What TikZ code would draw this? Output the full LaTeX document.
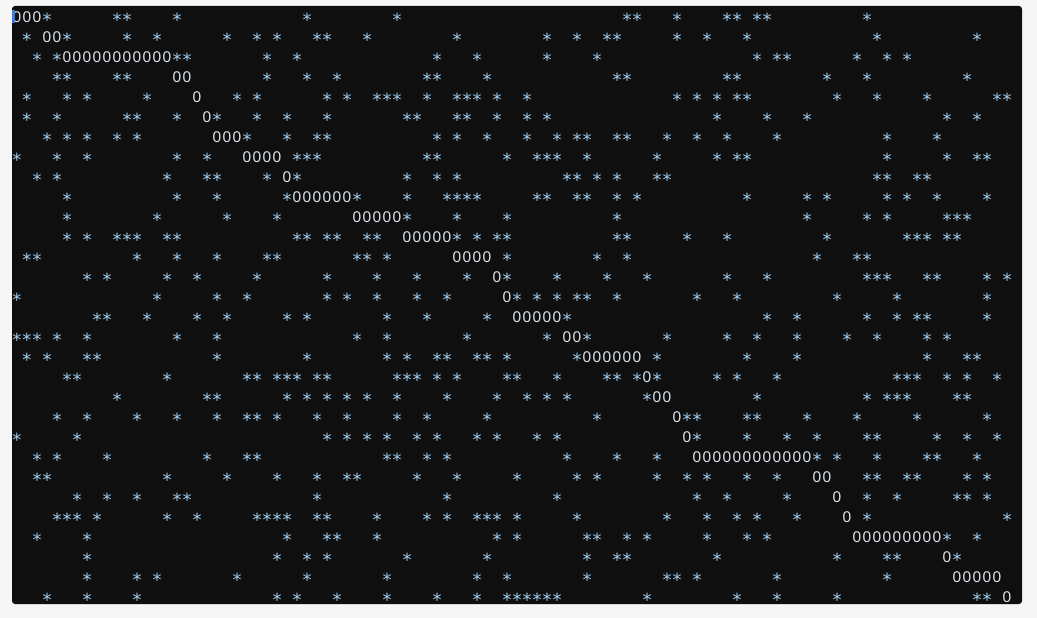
\documentclass[tikz,border=0pt]{standalone}
\usepackage{fontspec}
\newfontfamily\zfont{Liberation Sans}
\newfontfamily\sfont{DejaVu Sans}
\definecolor{outerbg}{HTML}{F6F6F6}
\definecolor{panel}{HTML}{0F0F0F}
\definecolor{starc}{HTML}{A2CFF0}
\definecolor{zeroc}{HTML}{DCE3EA}
\definecolor{cursorc}{HTML}{3C7BD8}
\tikzset{
  zeronode/.style={anchor=base, inner sep=0pt, outer sep=0pt, text=zeroc,
    font=\zfont\fontsize{15.5}{15.5}\selectfont},
  starnode/.style={anchor=base, inner sep=0pt, outer sep=0pt, text=starc,
    font=\sfont\fontsize{18}{18}\selectfont},
}
\newcommand\gridrow[4]{%
  \foreach \kk in {1,...,#3}{%
    \node[zeronode] (z#1-\kk) at ({17+10*(#2+\kk-1)}, {22.5+20*#1}) {0};}%
  \foreach \cc in {#4}{%
    \node[starnode] (s#1-\cc) at ({17+10*\cc}, {26.6+20*#1}) {*};}%
}
\begin{document}
\begin{tikzpicture}[x=1pt,y=-1pt]
\fill[outerbg] (0,0) rectangle (1037,618);
\useasboundingbox (0,0) rectangle (1037,618);
\fill[panel, rounded corners=3pt] (12,6) rectangle (1022,604);
\gridrow{0}{0}{3}{3,10,11,16,29,38,61,62,66,71,72,74,75,85}
\gridrow{1}{3}{2}{1,5,11,14,21,24,26,30,31,35,44,53,56,59,60,66,69,73,86,96}
\gridrow{2}{5}{11}{2,4,16,17,25,28,42,46,53,58,74,76,77,84,87,89}
\gridrow{3}{16}{2}{4,5,10,11,25,29,32,41,42,47,60,61,71,72,81,85,95}
\gridrow{4}{18}{1}{1,5,7,13,22,24,31,33,36,37,38,41,44,45,46,48,51,66,68,70,72,73,82,86,91,98,99}
\gridrow{5}{19}{1}{1,4,11,12,16,20,24,27,31,39,40,44,45,48,51,53,70,75,79,93,96}
\gridrow{6}{20}{3}{3,5,7,10,12,23,27,30,31,42,44,47,51,54,56,57,60,61,65,68,71,76,87,92}
\gridrow{7}{23}{4}{0,4,7,16,19,28,29,30,41,42,49,52,53,54,57,64,70,72,73,87,93,96,97}
\gridrow{8}{27}{1}{2,4,15,19,20,25,28,39,42,44,55,56,58,60,64,65,86,87,90,91}
\gridrow{9}{28}{6}{5,16,20,27,34,39,43,44,45,46,52,53,56,57,60,62,73,79,81,87,89,92,97}
\gridrow{10}{34}{5}{5,14,21,26,39,44,49,60,79,85,87,93,94,95}
\gridrow{11}{39}{5}{5,7,10,11,12,15,16,28,29,31,32,35,36,44,46,48,49,60,61,67,71,81,89,90,91,93,94}
\gridrow{12}{44}{4}{1,2,12,16,20,25,26,34,35,37,49,58,61,80,84,85}
\gridrow{13}{48}{1}{7,9,15,18,24,31,36,40,45,49,54,59,63,71,75,85,86,87,91,92,97,99}
\gridrow{14}{49}{1}{0,14,20,23,31,33,36,40,43,50,52,54,56,57,60,68,72,82,88,97}
\gridrow{15}{50}{5}{8,9,13,18,21,27,29,37,41,47,55,75,78,85,88,90,91,97}
\gridrow{16}{55}{2}{0,1,2,4,7,16,20,34,37,45,53,57,65,71,74,78,83,86,91,93}
\gridrow{17}{57}{6}{1,3,7,8,20,29,37,39,42,43,46,47,49,56,64,73,78,91,95,96}
\gridrow{18}{63}{1}{5,6,15,23,24,26,27,28,30,31,38,39,40,42,44,49,50,54,59,60,62,64,70,72,76,88,89,90,93,95,98}
\gridrow{19}{64}{2}{10,19,20,27,29,31,33,35,38,43,48,51,53,55,63,74,85,87,88,89,94,95}
\gridrow{20}{66}{1}{4,7,12,16,20,23,24,26,30,33,38,41,47,58,67,68,73,74,79,84,90,97}
\gridrow{21}{67}{1}{0,6,31,33,35,37,40,42,46,48,52,54,68,73,77,80,85,86,92,95,98}
\gridrow{22}{68}{12}{2,4,9,19,23,24,37,38,41,43,55,60,64,80,82,86,91,92,96}
\gridrow{23}{80}{2}{2,3,15,21,26,30,33,34,40,44,50,56,58,64,67,69,73,76,85,86,89,90,95,97}
\gridrow{24}{82}{1}{6,9,12,16,17,30,43,54,68,71,77,85,88,94,95,97}
\gridrow{25}{83}{1}{4,5,6,8,15,18,24,25,26,27,30,31,36,41,43,46,47,48,50,56,65,69,72,74,78,85,99}
\gridrow{26}{84}{9}{2,7,27,31,32,36,48,50,57,58,61,63,69,73,75,93,96}
\gridrow{27}{93}{1}{7,26,29,31,39,47,57,60,61,70,82,87,88,94}
\gridrow{28}{94}{5}{7,12,14,22,29,37,46,49,57,65,66,68,76,87}
\gridrow{29}{99}{1}{3,7,12,26,28,32,37,42,46,49,50,51,52,53,54,63,72,76,82,96,97}
\fill[cursorc] (12,10) rectangle (14.5,23);
\end{tikzpicture}
\end{document}
